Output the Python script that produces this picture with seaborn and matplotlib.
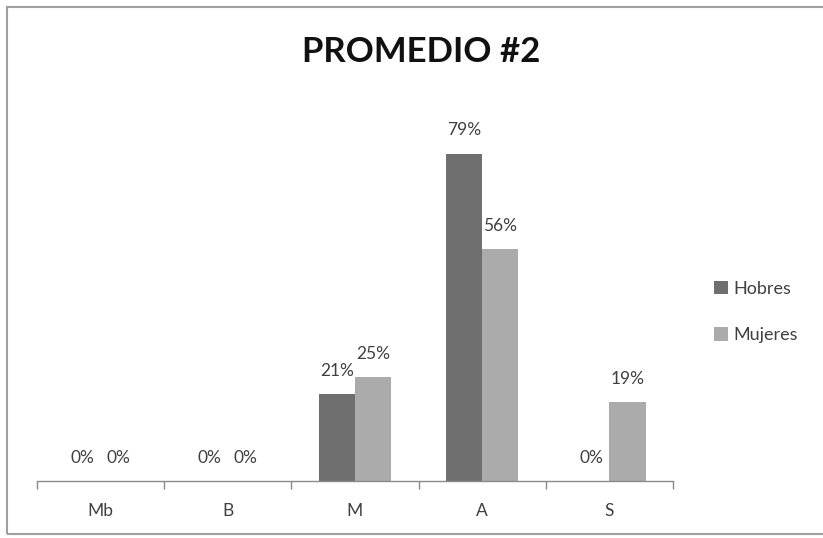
import numpy as np
import pandas as pd
import seaborn as sns
from matplotlib import pyplot as plt
from matplotlib.patches import Rectangle

categories = ['Mb', 'B', 'M', 'A', 'S']
hobres = [0, 0, 21, 79, 0]
mujeres = [0, 0, 25, 56, 19]
series_names = ['Hobres', 'Mujeres']
series_colors = ['#6f6f6f', '#ababab']

df = pd.DataFrame({
    'cat': categories * 2,
    'serie': [series_names[0]] * len(categories) + [series_names[1]] * len(categories),
    'valor': hobres + mujeres,
})

sns.set_style('white')
plt.rcParams['font.family'] = ['Lato', 'DejaVu Sans']

fig = plt.figure(figsize=(8.23, 5.38), dpi=100)
ax = fig.add_axes([37 / 823, 57 / 538, 636 / 823, 373 / 538])

sns.barplot(data=df, x='cat', y='valor', hue='serie', order=categories,
            hue_order=series_names, palette=series_colors, width=0.57,
            saturation=1, linewidth=0, ax=ax, legend=True)

for cont in ax.containers:
    ax.bar_label(cont, fmt='{:.0f}%', padding=11, fontsize=12.5, color='#404040')

ax.set_xlim(-0.5, len(categories) - 0.5)
ax.set_ylim(0, 90)
ax.set_xlabel('')
ax.set_ylabel('')
ax.set_yticks([])
for s in ['top', 'right', 'left']:
    ax.spines[s].set_visible(False)
ax.spines['bottom'].set_color('#8a8a8a')
ax.spines['bottom'].set_linewidth(1)

ax.set_xticks(np.arange(-0.5, len(categories), 1.0), minor=True)
ax.tick_params(axis='x', which='minor', bottom=True, length=6, color='#8a8a8a',
               width=1, direction='out')
ax.tick_params(axis='x', which='major', length=0, pad=16, labelsize=12.5,
               labelcolor='#404040')

leg = ax.legend(loc='center left', bbox_to_anchor=(705 / 823, 1 - 312 / 538),
                bbox_transform=fig.transFigure, frameon=False, fontsize=13,
                handlelength=0.75, handleheight=0.75, handletextpad=0.3,
                labelspacing=1.7, borderpad=0)
for t in leg.get_texts():
    t.set_color('#404040')

fig.text(421 / 823, 1 - 52 / 538, 'PROMEDIO #2', ha='center', va='center',
         fontsize=25, fontweight='bold', color='#111111')

fig.patches.append(Rectangle((7 / 823, 4 / 538), 1.0, 1 - 11 / 538,
                             transform=fig.transFigure, fill=False,
                             edgecolor='#a0a0a0', linewidth=1.5))

plt.savefig('out.png', dpi=100)
